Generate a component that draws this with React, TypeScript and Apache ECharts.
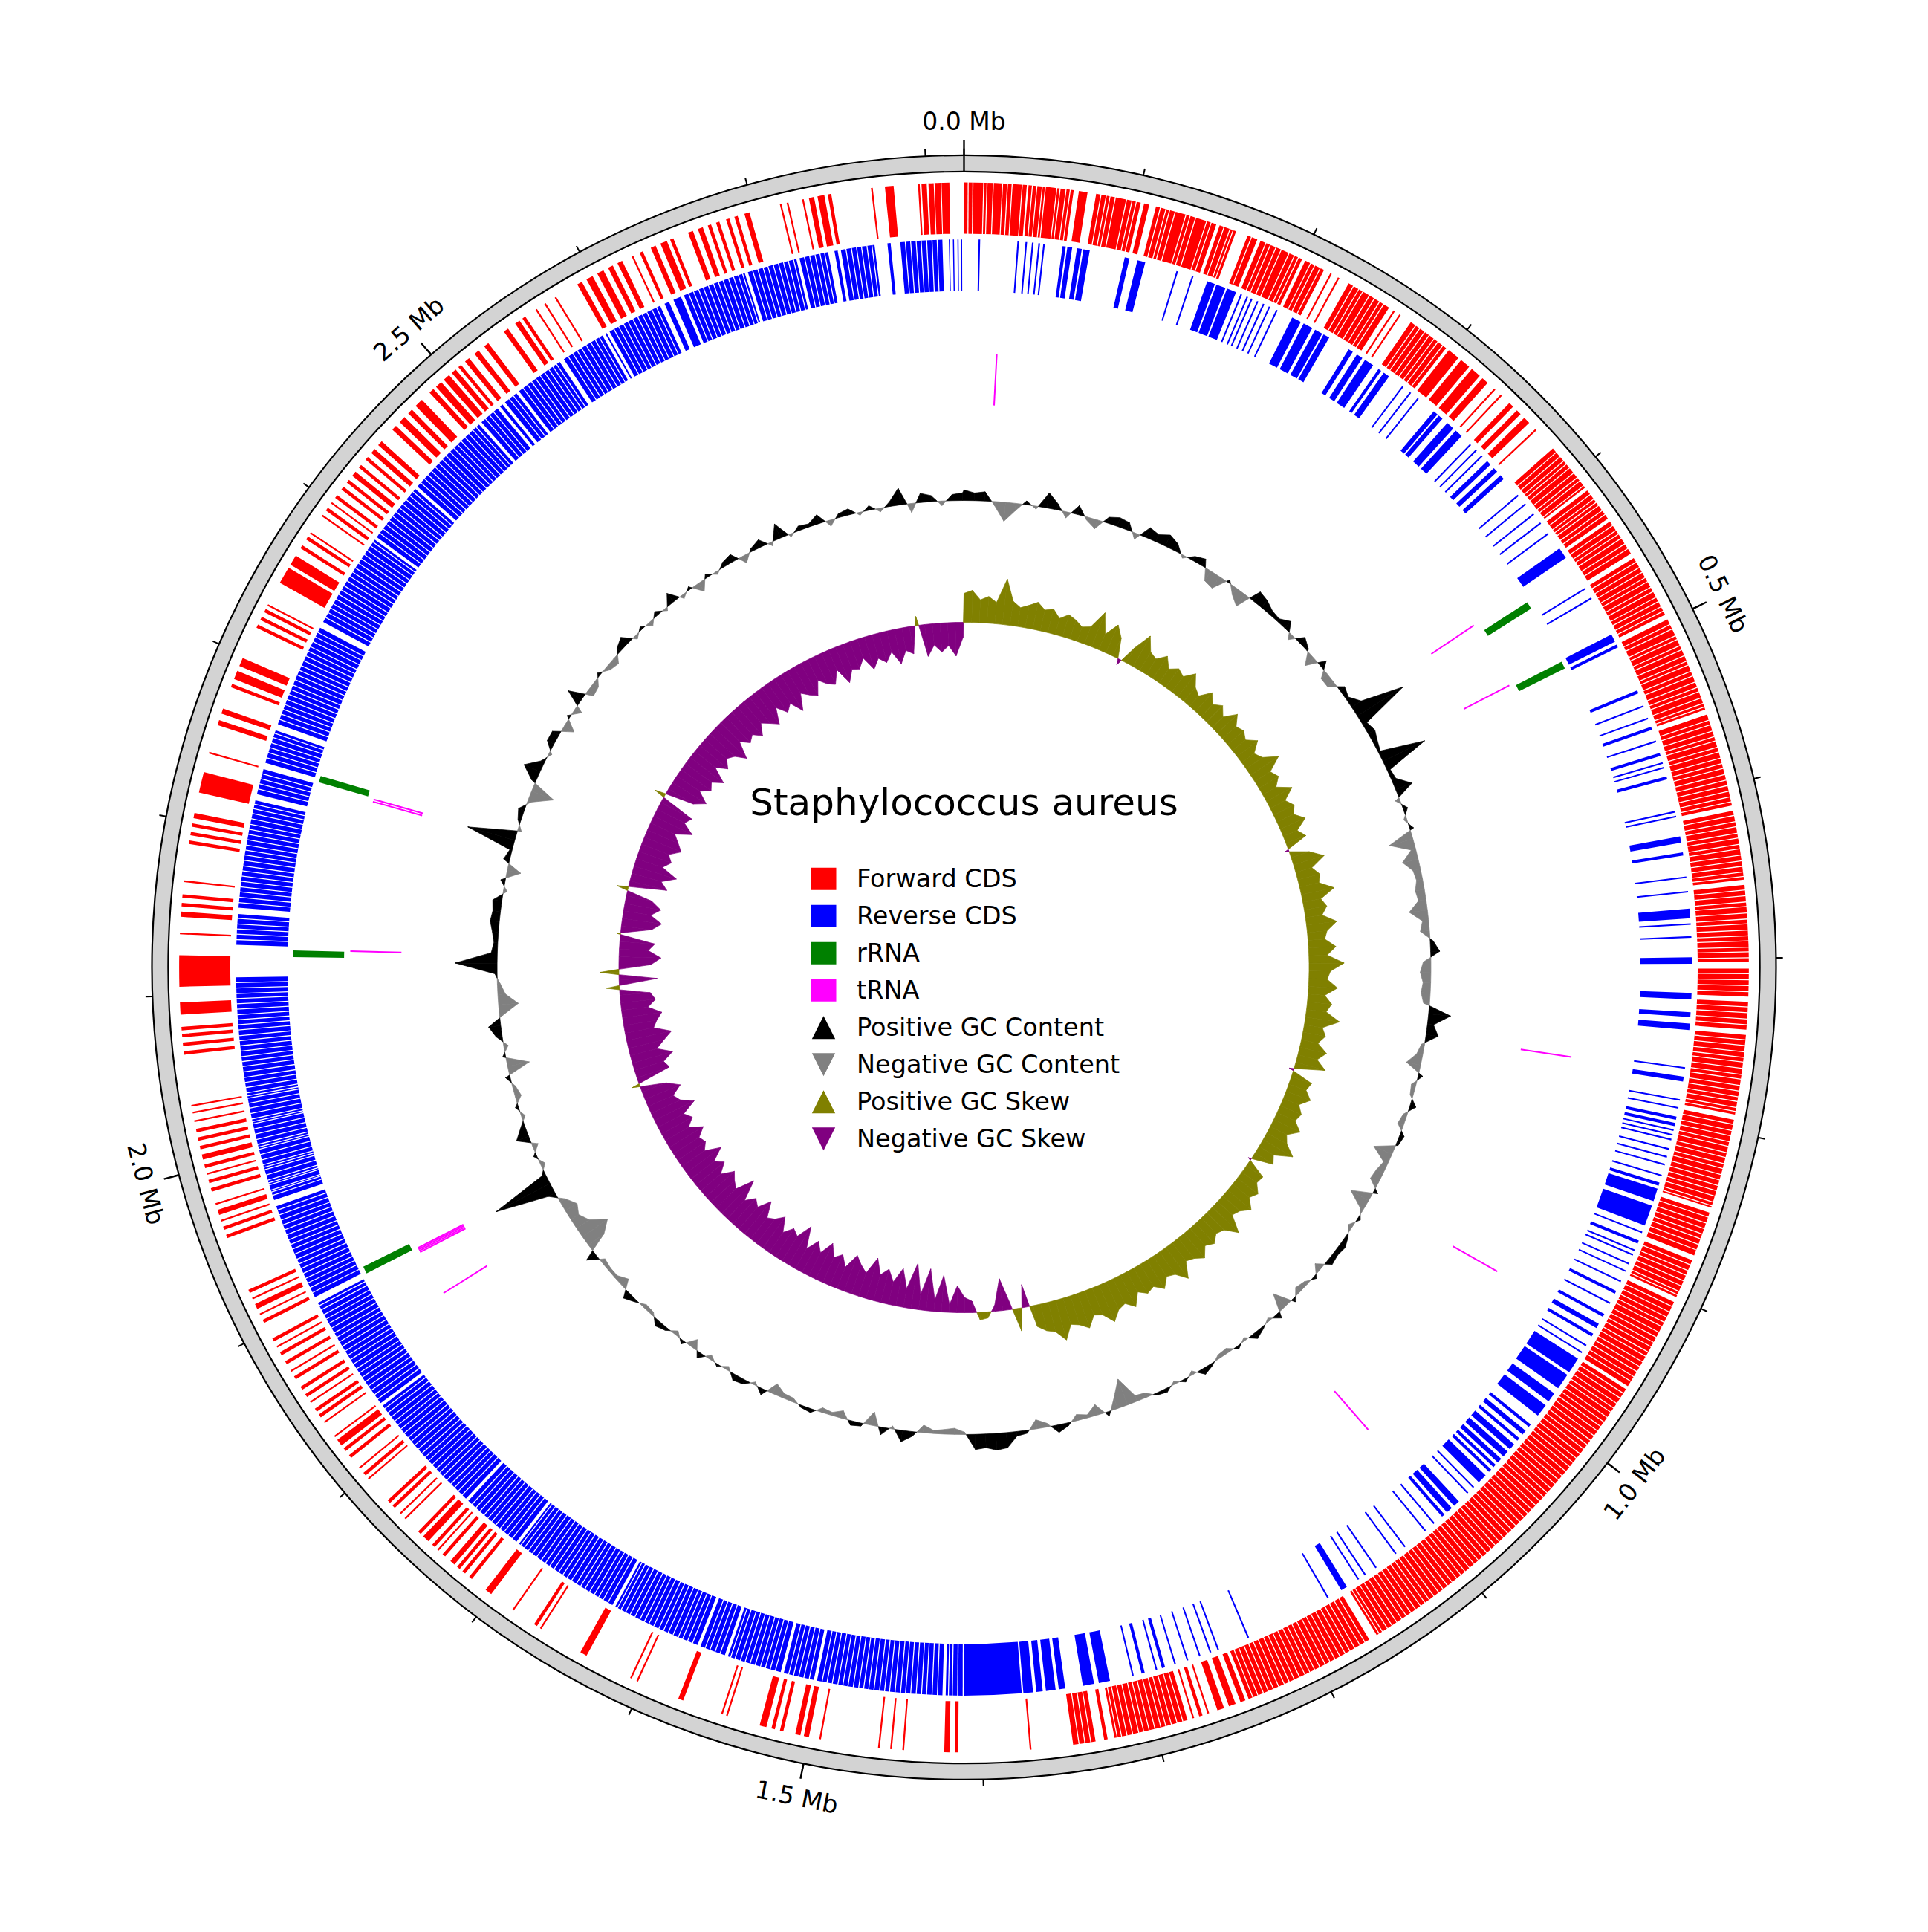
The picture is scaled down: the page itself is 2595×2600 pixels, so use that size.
import React, { useEffect, useRef } from "react";
import * as echarts from "echarts";

type Span = [number, number];

// ---------------- DATA ----------------
const GENOME_KB = 2821.361;
const TITLE = "Staphylococcus aureus";

const minorTickKb = [0, 100, 200, 300, 400, 500, 600, 700, 800, 900, 1000, 1100, 1200, 1300, 1400, 1500, 1600, 1700, 1800, 1900, 2000, 2100, 2200, 2300, 2400, 2500, 2600, 2700, 2800];
const majorTickKb = [0, 500, 1000, 1500, 2000, 2500];
const majorTickLabels = ["0.0 Mb", "0.5 Mb", "1.0 Mb", "1.5 Mb", "2.0 Mb", "2.5 Mb"];

// forward-strand CDS runs (kb)
const forwardCds: Span[] = [
  [0, 36], [37, 63], [66, 71], [76, 102], [104, 107], [111, 147], [149, 159],
  [166, 172], [174, 200], [202, 214], [218, 219], [223, 224], [230, 257], [260, 261], [264, 265],
  [272, 297], [299, 306], [308, 314], [316, 322], [324, 328], [333, 334], [338, 339],
  [345, 348], [351, 354], [357, 361], [366, 367], [381, 410], [412, 432], [434, 456],
  [459, 496], [499, 555], [558, 612], [615, 655], [658, 702], [706, 722], [725, 741],
  [744, 790], [793, 845], [848, 874], [877, 900], [903, 958], [960, 1162], [1167, 1244],
  [1246, 1249], [1252, 1256], [1259, 1263], [1268, 1269], [1272, 1274], [1277, 1278],
  [1281, 1324], [1328, 1330], [1335, 1348],
  [1372, 1373], [1414, 1416], [1419, 1422], [1445, 1446], [1452, 1453], [1459, 1460], [1493, 1494],
  [1500, 1503], [1505, 1508], [1515, 1517], [1520, 1522], [1525, 1529], [1548, 1549], [1551, 1552],
  [1575, 1578], [1603, 1604], [1607, 1608], [1636, 1640], [1666, 1667], [1669, 1671], [1685, 1686],
  [1701, 1705], [1715, 1717], [1720, 1722], [1724, 1726], [1728, 1731], [1735, 1737],
  [1740, 1741], [1743, 1745], [1748, 1752], [1754, 1756], [1766, 1767], [1770, 1771],
  [1775, 1777], [1779, 1781], [1797, 1798], [1800, 1802], [1805, 1806],
  [1813, 1815], [1818, 1820], [1822, 1826], [1828, 1829], [1838, 1839], [1842, 1844], [1846, 1848],
  [1852, 1853], [1856, 1858], [1861, 1863], [1868, 1870], [1873, 1874], [1878, 1880], [1884, 1886],
  [1889, 1890], [1893, 1895], [1905, 1907], [1910, 1911], [1914, 1917], [1920, 1921], [1924, 1926],
  [1958, 1960], [1963, 1965], [1968, 1969], [1972, 1975], [1978, 1979], [1986, 1988], [1991, 1993], [1996, 1997],
  [2000, 2002], [2005, 2008], [2011, 2013], [2016, 2018], [2021, 2023], [2027, 2028], [2032, 2033], [2036, 2037],
  [2066, 2068], [2071, 2073], [2076, 2078], [2080, 2082], [2089, 2096], [2105, 2123], [2135, 2136],
  [2145, 2148], [2151, 2153], [2156, 2158], [2165, 2166], [2187, 2189], [2192, 2194], [2197, 2199], [2202, 2205],
  [2217, 2229], [2240, 2241], [2257, 2260], [2264, 2267], [2280, 2282], [2285, 2290], [2293, 2298],
  [2317, 2319], [2322, 2324], [2327, 2329], [2331, 2332], [2346, 2356], [2358, 2364],
  [2369, 2371], [2375, 2377], [2379, 2380], [2391, 2392],
  [2395, 2397], [2400, 2401], [2404, 2406], [2410, 2412], [2415, 2417],
  [2420, 2423], [2426, 2428], [2432, 2434], [2437, 2440], [2443, 2446],
  [2455, 2458], [2461, 2465], [2468, 2471], [2474, 2479], [2485, 2488], [2490, 2494], [2496, 2500], [2502, 2505],
  [2507, 2509], [2512, 2515], [2519, 2522], [2526, 2529], [2540, 2543], [2548, 2551], [2553, 2555],
  [2562, 2563], [2568, 2569], [2575, 2576], [2590, 2593], [2596, 2600], [2603, 2607], [2610, 2613], [2616, 2619],
  [2625, 2626], [2630, 2632], [2637, 2640], [2643, 2647], [2649, 2651], [2660, 2663], [2666, 2669],
  [2672, 2674], [2677, 2679], [2683, 2685], [2688, 2690], [2694, 2697], [2715, 2716], [2719, 2720], [2728, 2729],
  [2732, 2735], [2737, 2741], [2743, 2745], [2768, 2769], [2776, 2781],
  [2795, 2796], [2797, 2800], [2801, 2804], [2804.5, 2808], [2808.5, 2813],
];

// thin inter-gene gaps visible inside dense forward runs (kb)
const forwardGeneBreaks = [
  2.4, 5.1, 11.3, 13.2, 16.8, 22.1, 24.9, 27.6, 33.4, 39.2, 41.8, 44.9, 46.7, 53.3, 55.2, 58.6, 61.0,
  78.8, 81.9, 84.1, 87.2, 93.7, 96.9, 99.4, 113.6, 116.9, 119.1, 122.4, 128.8, 131.3, 134.6, 141.2, 143.9,
  151.7, 155.3, 157.2, 168.4, 177.3, 180.1, 183.6, 186.9, 191.8, 195.2, 197.7, 205.4, 208.1, 211.6,
  233.2, 236.7, 239.4, 243.8, 247.1, 250.6, 253.3, 275.4, 278.2, 281.7, 284.9, 288.3, 291.1, 294.6,
  383.9, 387.2, 390.4, 392.8, 395.6, 399.3, 402.7, 405.1, 408.6, 414.9, 418.2, 420.5, 422.8, 426.3, 429.1,
  436.8, 440.2, 442.7, 445.6, 449.4, 452.6,
  461.7, 465.2, 468.4, 471.9, 474.6, 478.3, 481.1, 484.8, 487.6, 490.9, 493.7,
  502.3, 505.1, 509.4, 511.8, 515.6, 518.2, 521.9, 525.3, 527.7, 531.6, 534.4, 538.2, 541.5, 544.1, 547.9, 551.2, 553.4,
  561.4, 564.2, 567.9, 571.3, 573.8, 577.6, 580.4, 584.1, 587.3, 590.2, 593.8, 597.1, 600.3, 603.6, 606.9, 609.8,
  617.8, 621.4, 624.3, 628.1, 630.9, 634.6, 637.2, 640.8, 644.1, 647.3, 650.6, 653.1,
  660.9, 664.2, 667.8, 670.4, 674.1, 677.6, 680.3, 683.9, 687.2, 690.1, 693.7, 696.4, 699.8,
  708.9, 712.4, 715.7, 719.2, 727.9, 731.2, 734.8, 738.1,
  746.8, 750.1, 753.7, 756.9, 759.6, 763.2, 766.8, 769.4, 773.1, 776.3, 779.7, 782.4, 785.9, 788.2,
  795.7, 799.3, 802.4, 805.9, 808.6, 812.3, 815.1, 818.8, 821.6, 825.2, 828.4, 831.7, 834.9, 838.1, 841.6, 843.8,
  850.7, 854.3, 857.6, 860.9, 863.8, 867.2, 870.6, 879.8, 883.4, 886.2, 889.7, 892.9, 896.3, 898.4,
  905.8, 909.3, 912.6, 915.9, 918.7, 922.4, 925.6, 928.9, 931.8, 935.3, 938.1, 941.7, 944.9, 948.2, 951.6, 954.7,
  962.8, 966.1, 969.7, 972.9, 975.8, 979.4, 982.6, 985.8, 988.9, 992.3, 995.6, 998.8, 1001.9, 1005.4, 1008.7,
  1011.8, 1014.9, 1018.3, 1021.6, 1024.7, 1027.9, 1031.2, 1034.6, 1037.8, 1040.9, 1044.3, 1047.6, 1050.8,
  1053.9, 1057.3, 1060.6, 1063.8, 1066.9, 1070.4, 1073.6, 1076.8, 1079.9, 1083.3, 1086.6, 1089.8, 1092.9,
  1096.4, 1099.7, 1102.8, 1105.9, 1109.3, 1112.6, 1115.8, 1118.9, 1122.4, 1125.7, 1128.8, 1131.9, 1135.3,
  1138.6, 1141.8, 1144.9, 1148.4, 1151.7, 1154.8, 1158.2, 1160.4,
  1169.9, 1173.2, 1176.6, 1179.8, 1182.9, 1186.3, 1189.6, 1192.8, 1195.9, 1199.4, 1202.7, 1205.8, 1208.9,
  1212.3, 1215.6, 1218.8, 1221.9, 1225.4, 1228.7, 1231.8, 1234.9, 1238.3, 1241.4,
  1283.8, 1287.2, 1290.6, 1293.9, 1296.8, 1300.3, 1303.7, 1306.9, 1309.8, 1313.4, 1316.7, 1319.9, 1322.4,
  1337.8, 1341.2, 1344.6,
];

// reverse-strand CDS runs (kb)
const reverseCds: Span[] = [
  [9, 10], [33, 34], [38, 39], [42, 43], [46, 47], [49, 50], [61, 63], [64, 67], [70, 73], [74, 78],
  [100, 103], [108, 113], [133, 134], [143, 144], [153, 158], [159, 165], [166, 172],
  [175, 176], [179, 180], [182, 183], [186, 187], [190, 191], [194, 195], [199, 200],
  [210, 216], [218, 224], [226, 231], [232, 236], [250, 253], [256, 260], [262, 268], [272, 274], [276, 280],
  [290, 291], [296, 297], [302, 303], [315, 318], [319, 322], [326, 331], [333, 338],
  [345, 346], [350, 351], [355, 356], [360, 363], [366, 369], [372, 375],
  [388, 389], [395, 396], [403, 404], [410, 411], [418, 419], [430, 437], [459, 460], [466, 467],
  [492, 497], [499, 501], [530, 532], [540, 541], [548, 549], [554, 556], [563, 564], [571, 573],
  [577, 578], [580, 581], [586, 588], [608, 609], [611, 612], [624, 628], [634, 636],
  [649, 650], [658, 659], [669, 675], [678, 679], [686, 687], [699, 703], [721, 725], [733, 736], [740, 744],
  [767, 768], [773, 776], [787, 788], [792, 793], [798, 800], [802, 804], [806, 807], [809, 810],
  [812, 813], [818, 819], [823, 824], [828, 829],
  [835, 836], [840, 842], [844, 852], [855, 868], [872, 873], [878, 880], [884, 885], [887, 888],
  [893, 894], [898, 899], [905, 906], [912, 914], [920, 921], [928, 930], [935, 938], [942, 944],
  [950, 951], [955, 956], [960, 970], [972, 982], [986, 992], [995, 1003],
  [1010, 1012], [1015, 1018], [1021, 1023], [1026, 1030], [1032, 1036], [1038, 1041], [1043, 1045],
  [1047, 1049], [1052, 1058], [1062, 1063], [1067, 1068], [1075, 1079], [1081, 1085], [1087, 1089],
  [1095, 1096], [1102, 1103], [1118, 1119], [1125, 1126], [1140, 1141], [1148, 1149], [1153, 1154],
  [1162, 1166], [1175, 1176], [1230, 1231], [1250, 1251], [1255, 1256], [1262, 1263], [1270, 1271],
  [1278, 1279], [1285, 1287], [1290, 1291], [1298, 1300], [1305, 1306], [1320, 1327], [1330, 1337],
  [1348, 1352], [1354, 1360], [1362, 1366], [1368, 1374],
  [1375, 1422], [1424, 1502], [1504, 1523], [1525, 1559], [1561, 1577], [1579, 1635], [1637, 1706],
  [1708, 1747], [1749, 1826], [1828, 1901], [1905, 1966], [1970, 2110], [2130, 2149], [2153, 2220],
  [2224, 2240], [2244, 2265], [2269, 2334], [2338, 2398], [2400, 2438], [2440, 2494], [2496, 2509],
  [2511, 2513], [2515, 2524], [2526, 2557], [2560, 2588], [2590, 2591], [2593, 2628], [2631, 2634],
  [2637, 2642], [2644, 2684], [2686, 2717], [2719, 2737], [2741, 2743], [2745, 2766], [2774, 2776],
  [2782, 2808], [2812, 2812.6], [2814.5, 2815.2], [2817.3, 2818], [2819.6, 2820.2],
];

// thin inter-gene gaps visible inside dense reverse runs (kb)
const reverseGeneBreaks = [
  1411.2, 1414.6, 1417.9, 1420.3,
  1427.1, 1430.4, 1433.8, 1436.9, 1440.2, 1443.6, 1446.8, 1449.9, 1453.3, 1456.7, 1459.8, 1462.9, 1466.4,
  1469.7, 1472.8, 1475.9, 1479.3, 1482.6, 1485.8, 1488.9, 1492.4, 1495.7, 1498.8,
  1506.9, 1510.3, 1513.6, 1516.8, 1519.9, 1528.4, 1531.7, 1534.8, 1537.9, 1541.3, 1544.6, 1547.8, 1550.9,
  1554.4, 1557.2, 1564.1, 1567.4, 1570.8, 1573.9,
  1582.3, 1585.6, 1588.9, 1591.8, 1595.3, 1598.6, 1601.8, 1604.9, 1608.4, 1611.7, 1614.8, 1617.9, 1621.3,
  1624.6, 1627.8, 1630.9, 1633.4,
  1640.2, 1643.6, 1646.8, 1649.9, 1653.3, 1656.7, 1659.8, 1662.9, 1666.4, 1669.7, 1672.8, 1675.9, 1679.3,
  1682.6, 1685.8, 1688.9, 1692.4, 1695.7, 1698.8, 1701.9, 1704.6,
  1711.3, 1714.6, 1717.8, 1720.9, 1724.4, 1727.7, 1730.8, 1733.9, 1737.3, 1740.6, 1743.8,
  1752.2, 1755.6, 1758.8, 1761.9, 1765.3, 1768.7, 1771.8, 1774.9, 1778.4, 1781.7, 1784.8, 1787.9, 1791.3,
  1794.6, 1797.8, 1800.9, 1804.4, 1807.7, 1810.8, 1813.9, 1817.3, 1820.6, 1823.8,
  1831.1, 1834.4, 1837.8, 1840.9, 1844.3, 1847.6, 1850.8, 1853.9, 1857.4, 1860.7, 1863.8, 1866.9, 1870.3,
  1873.6, 1876.8, 1879.9, 1883.4, 1886.7, 1889.8, 1892.9, 1896.3, 1899.1,
  1908.2, 1911.6, 1914.8, 1917.9, 1921.3, 1924.6, 1927.8, 1930.9, 1934.4, 1937.7, 1940.8, 1943.9, 1947.3,
  1950.6, 1953.8, 1956.9, 1960.4, 1963.5,
  1973.1, 1975.2, 1976.4, 1979.8, 1981.1, 1982.9, 1986.3, 1989.6, 1991.2, 1992.8, 1995.9, 1999.4, 2002.7,
  2004.1, 2005.8, 2008.9, 2012.3, 2015.6, 2018.8, 2020.2, 2021.9, 2025.4, 2028.7, 2031.8, 2034.9, 2036.4,
  2038.3, 2041.6, 2044.8, 2047.9, 2051.4, 2054.7, 2057.8, 2060.9, 2064.3, 2067.6, 2070.8, 2073.9, 2077.4,
  2080.7, 2083.8, 2086.9, 2090.3, 2093.6, 2096.8, 2099.9, 2103.4, 2106.7,
  2133.2, 2136.6, 2139.8, 2142.9, 2146.3,
  2156.1, 2159.4, 2162.8, 2165.9, 2169.3, 2172.6, 2175.8, 2178.9, 2182.4, 2185.7, 2188.8, 2191.9, 2195.3,
  2198.6, 2201.8, 2204.9, 2208.4, 2211.7, 2214.8, 2217.6, 2227.3, 2230.6, 2233.8, 2236.9,
  2247.2, 2250.6, 2253.8, 2256.9, 2260.3, 2263.1,
  2272.2, 2275.6, 2278.8, 2281.9, 2285.3, 2288.6, 2291.8, 2294.9, 2298.4, 2301.7, 2304.8, 2307.9, 2311.3,
  2314.6, 2317.8, 2320.9, 2324.4, 2327.7, 2330.8,
  2341.2, 2344.6, 2347.8, 2350.9, 2354.3, 2357.6, 2360.8, 2363.9, 2367.4, 2370.7, 2373.8, 2376.9, 2380.3,
  2383.6, 2386.8, 2389.9, 2393.4, 2396.2,
  2403.1, 2406.4, 2409.8, 2412.9, 2416.3, 2419.6, 2422.8, 2425.9, 2429.4, 2432.7, 2435.8,
  2443.2, 2446.6, 2449.8, 2452.9, 2456.3, 2459.6, 2462.8, 2465.9, 2469.4, 2472.7, 2475.8, 2478.9, 2482.3,
  2485.6, 2488.8, 2491.6, 2499.3, 2502.6, 2505.8, 2518.4, 2521.6,
  2529.2, 2532.6, 2535.8, 2538.9, 2542.3, 2545.6, 2548.8, 2551.9, 2554.6,
  2563.2, 2566.6, 2569.8, 2572.9, 2576.3, 2579.6, 2582.8, 2585.7,
  2596.1, 2599.4, 2602.8, 2605.9, 2609.3, 2612.6, 2615.8, 2618.9, 2622.4, 2625.6,
  2647.1, 2650.4, 2653.8, 2656.9, 2660.3, 2663.6, 2666.8, 2669.9, 2673.4, 2676.7, 2679.8, 2682.6,
  2689.1, 2692.4, 2695.8, 2698.9, 2702.3, 2705.6, 2708.8, 2711.9, 2715.2,
  2722.1, 2725.4, 2728.8, 2731.9, 2734.8, 2748.2, 2751.6, 2754.8, 2757.9, 2761.3, 2764.4,
  2785.1, 2788.4, 2791.8, 2794.9, 2798.3, 2801.6, 2804.8,
];

const rRnaSpans: Span[] = [[447, 452], [493, 498], [1903.5, 1908.5], [2123, 2127.5], [2241.5, 2246]];
const tRnaKb = [24, 440, 491, 771, 938, 1088, 1865, 1899.5, 1900.7, 1901.9, 1903, 2128, 2238.8, 2240.6];

const GENOME_GC = 32.9;
const GC_WINDOW_KB = 10;
const gcContent = [
  34.3, 33.9, 34.1, 32.3, 30.4, 31.9, 33.4, 32.5, 34.9, 33.7,
  32.1, 34.1, 32.5, 31.7, 33.7, 34.1, 33.9, 32.1, 34.3, 33.9,
  34.5, 33.9, 32.5, 33.5, 33.9, 31.4, 31.1, 33.3, 31.9, 31.0,
  34.4, 34.1, 33.5, 33.3, 34.1, 32.1, 33.9, 33.2, 31.4, 33.9,
  31.9, 31.9, 33.7, 33.3, 34.4, 40.0, 33.5, 33.9, 33.5, 33.2,
  39.0, 33.3, 33.5, 35.2, 32.3, 33.5, 32.5, 33.4, 29.7, 32.3,
  30.8, 31.9, 32.1, 31.7, 31.9, 30.5, 32.1, 31.7, 33.3, 34.1,
  31.9, 31.5, 31.9, 31.7, 32.1, 35.8, 33.7, 34.5, 32.5, 32.1,
  31.0, 33.5, 32.3, 32.5, 33.7, 32.4, 32.1, 33.5, 33.2, 30.3,
  32.3, 31.9, 31.7, 33.5, 30.2, 32.4, 33.3, 32.3, 33.2, 33.7,
  33.5, 33.7, 31.9, 33.3, 32.4, 32.1, 33.4, 30.6, 33.7, 32.5,
  33.2, 33.7, 32.5, 33.3, 32.3, 32.4, 33.2, 33.7, 32.4, 33.3,
  32.5, 33.4, 33.2, 32.3, 32.1, 29.3, 31.4, 33.5, 31.5, 32.5,
  32.1, 33.3, 33.9, 32.4, 31.7, 33.3, 33.5, 34.9, 35.1, 34.7,
  34.9, 32.6, 32.1, 32.3, 32.5, 31.9, 33.5, 34.4, 32.5, 33.9,
  31.1, 33.3, 33.5, 31.9, 32.5, 32.3, 33.4, 33.2, 32.4, 32.3,
  31.5, 33.7, 32.5, 33.5, 33.7, 32.4, 33.2, 32.3, 33.7, 31.7,
  33.4, 32.3, 33.3, 33.7, 32.5, 32.4, 33.2, 33.9, 31.7, 32.5,
  32.5, 32.3, 34.3, 30.4, 28.9, 30.9, 31.7, 31.1, 32.1, 33.9,
  40.9, 33.4, 32.3, 33.3, 32.1, 34.6, 33.5, 32.4, 33.3, 32.1,
  32.5, 33.5, 30.0, 33.3, 32.3, 33.7, 34.5, 32.4, 30.3, 31.9,
  32.5, 33.2, 38.4, 33.7, 33.4, 33.7, 34.1, 33.9, 34.1, 32.4,
  33.5, 31.1, 33.7, 33.2, 39.3, 32.4, 33.3, 33.7, 32.4, 29.8,
  33.5, 35.2, 33.4, 32.5, 33.9, 33.9, 31.4, 33.3, 31.9, 35.0,
  31.9, 32.1, 33.3, 32.3, 32.0, 33.5, 34.1, 32.4, 33.3, 32.3,
  33.5, 32.5, 34.3, 32.4, 33.3, 31.6, 33.4, 32.5, 33.5, 33.9,
  31.9, 33.3, 33.9, 32.4, 34.9, 32.5, 33.5, 33.3, 34.1, 32.1,
  33.4, 33.7, 32.5, 33.5, 32.4, 33.5, 35.1, 31.7, 34.1, 33.7,
  32.3, 33.7, 33.9,
];

const gcSkewPermille = [
  38, 42, 30, 35, 28, 60, 32, 25, 30, 36,
  28, 32, 22, 30, 26, 20, 24, 48, 22, 40,
  26, -8, 22, 46, 28, 24, 35, 22, 30, 25,
  38, 24, 18, 33, 22, 30, 20, 36, 24, 28,
  22, 34, 20, 26, 44, 24, 30, 20, 38, 22,
  30, 24, 36, 20, 28, -5, 25, 42, 22, 30,
  26, 44, 24, 30, 22, 40, 26, 22, 36, 24,
  46, 28, 24, 38, 22, 32, 26, 45, 24, 30,
  22, 36, 26, 40, -6, 28, 24, 34, 22, 30,
  26, 38, 24, 30, 45, 22, 28, -4, 26, 24,
  34, 28, 40, 30, 26, 48, 32, 28, 36, 30,
  42, 34, 30, 50, 36, 32, 44, 34, 38, 30,
  46, 36, 40, 52, 38, 34, 48, 40, 36, 54,
  40, 36, 28, -30, 30, -10, -42, -8, 8, 10,
  -15, -20, -35, -10, -48, -15, -55, -20, -60, -25,
  -50, -30, -45, -35, -55, -32, -40, -50, -30, -44,
  -36, -52, -34, -46, -30, -58, -38, -44, -32, -50,
  -40, -35, -55, -38, -45, -33, -60, -36, -42, -50,
  -34, -48, -38, -56, -36, -44, -40, -52, -35, -46,
  -38, -58, -42, -36, -50, -34, 10, -45, -40, -55,
  -36, -48, -60, -38, -44, -52, -35, -46, -40, 17,
  -50, 25, -42, -55, -38, -46, 5, -40, -52, -36,
  -48, -34, 15, -50, -40, -58, -36, -45, -38, -52,
  -44, -35, -56, -40, -46, 15, -38, -52, -36, -48,
  -42, -55, -34, -48, -38, -44, -57, -35, -46, -40,
  -50, -36, -44, -52, -32, -46, -38, -55, -34, -42,
  -48, -30, -40, -45, -28, -50, -35, -38, -26, -44,
  -32, -40, -28, -46, -30, -36, 12, -42, -28, -38,
  -30, -44, -20,
];

const legendLabels = ["Forward CDS", "Reverse CDS", "rRNA", "tRNA", "Positive GC Content", "Negative GC Content", "Positive GC Skew", "Negative GC Skew"];

// ---------------- STYLE / LAYOUT ----------------
const W = 2595;
const H = 2600;
const CX = 1297.5;
const CY = 1302;
const R = 1093;
const FONT = "DejaVu Sans";
const COLORS = {
  fwd: "#ff0000", rev: "#0000ff", rrna: "#008000", trna: "#ff00ff",
  gcPos: "#000000", gcNeg: "#808080", skewPos: "#808000", skewNeg: "#800080", ring: "#d3d3d3",
};
const LEGEND_MARKERS = [
  ["rect", COLORS.fwd], ["rect", COLORS.rev], ["rect", COLORS.rrna], ["rect", COLORS.trna],
  ["up", COLORS.gcPos], ["down", COLORS.gcNeg], ["up", COLORS.skewPos], ["down", COLORS.skewNeg],
];
const TRACK = {
  ring: [98, 100] as Span, fwd: [90.35, 96.65] as Span, rev: [83.3, 89.65] as Span,
  rrna: [76.35, 82.65] as Span, trna: [69.3, 75.6] as Span,
};

function dist(p: number[], cx: number, cy: number) {
  return Math.hypot(p[0] - cx, p[1] - cy);
}
function ang(p: number[], cx: number, cy: number) {
  return Math.atan2(p[1] - cy, p[0] - cx);
}

function sectorEl(params: any, api: any, rIn: number, rOut: number, s: number, e: number, color: string) {
  const cx = params.coordSys.cx, cy = params.coordSys.cy;
  const pIn = api.coord([rIn, s]);
  const pS = api.coord([rOut, s]);
  const pE = api.coord([rOut, e]);
  const a0 = ang(pS, cx, cy);
  let d = ang(pE, cx, cy) - a0;
  while (d < 0) d += Math.PI * 2;
  return {
    type: "sector",
    shape: { cx, cy, r0: dist(pIn, cx, cy), r: dist(pS, cx, cy), startAngle: a0, endAngle: a0 + d, clockwise: true },
    style: { fill: color },
  };
}

function featureSeries(spans: Span[], track: Span, color: string, name: string) {
  return {
    type: "custom", name, coordinateSystem: "polar", polarIndex: 0, silent: true,
    data: spans.map((s) => [s[0], s[1]]),
    renderItem: (params: any, api: any) =>
      sectorEl(params, api, track[0], track[1], api.value(0), api.value(1), color),
  };
}

function radialLineSeries(positions: number[], track: Span, color: string, width: number, name: string) {
  return {
    type: "custom", name, coordinateSystem: "polar", polarIndex: 0, silent: true,
    data: positions.map((k) => [track[1], k]),
    renderItem: (params: any, api: any) => {
      const k = api.value(1);
      const a = api.coord([track[0] - 0.05, k]);
      const b = api.coord([track[1] + 0.05, k]);
      return { type: "line", shape: { x1: a[0], y1: a[1], x2: b[0], y2: b[1] }, style: { stroke: color, lineWidth: width } };
    },
  };
}

function profileSeries(values: number[], base: number, polarIndex: number, posColor: string, negColor: string, name: string) {
  const n = values.length;
  return {
    type: "custom", name, coordinateSystem: "polar", polarIndex, silent: true,
    data: values.map((v, i) => [v, i * GC_WINDOW_KB]),
    renderItem: (params: any, api: any) => {
      const i = params.dataIndex;
      const v0 = values[i];
      const v1 = values[(i + 1) % n];
      const x0 = i * GC_WINDOW_KB;
      const x1 = i + 1 < n ? (i + 1) * GC_WINDOW_KB : GENOME_KB;
      const P = (v: number, x: number) => {
        const c = api.coord([v, x]);
        return [c[0], c[1]];
      };
      const children: any[] = [];
      const poly = (pts: number[][], color: string) =>
        children.push({ type: "polygon", shape: { points: pts }, style: { fill: color, stroke: color, lineWidth: 0.7, lineJoin: "round" } });
      const s0 = v0 - base, s1 = v1 - base;
      if (s0 >= 0 && s1 >= 0) {
        poly([P(base, x0), P(v0, x0), P(v1, x1), P(base, x1)], posColor);
      } else if (s0 <= 0 && s1 <= 0) {
        poly([P(base, x0), P(v0, x0), P(v1, x1), P(base, x1)], negColor);
      } else {
        const t = s0 / (s0 - s1);
        const xm = x0 + t * (x1 - x0);
        poly([P(base, x0), P(v0, x0), P(base, xm)], s0 > 0 ? posColor : negColor);
        poly([P(base, xm), P(v1, x1), P(base, x1)], s1 > 0 ? posColor : negColor);
      }
      return { type: "group", children };
    },
  };
}

function buildOption(): any {
  const gcMin = GENOME_GC - 8, gcMax = GENOME_GC + 8;
  const series: any[] = [];

  series.push({
    type: "custom", name: "axis", coordinateSystem: "polar", polarIndex: 0, silent: true,
    data: [[TRACK.ring[1], 0]],
    renderItem: (params: any, api: any) => {
      const cx = params.coordSys.cx, cy = params.coordSys.cy;
      const pO = api.coord([TRACK.ring[1], 0]);
      const pI = api.coord([TRACK.ring[0], 0]);
      return {
        type: "group",
        children: [
          { type: "ring", shape: { cx, cy, r: dist(pO, cx, cy), r0: dist(pI, cx, cy) }, style: { fill: COLORS.ring, stroke: "#000", lineWidth: 2.2 } },
          { type: "line", shape: { x1: pI[0], y1: pI[1], x2: pO[0], y2: pO[1] }, style: { stroke: "#000", lineWidth: 2.4 } },
        ],
      };
    },
  });

  const tickSeries = (ticks: number[], len: number, width: number) => ({
    type: "custom", coordinateSystem: "polar", polarIndex: 0, silent: true,
    data: ticks.map((k) => [TRACK.ring[1], k]),
    renderItem: (params: any, api: any) => {
      const k = api.value(1);
      const a = api.coord([TRACK.ring[1], k]);
      const b = api.coord([TRACK.ring[1] + len, k]);
      return { type: "line", shape: { x1: a[0], y1: a[1], x2: b[0], y2: b[1] }, style: { stroke: "#000", lineWidth: width } };
    },
  });
  series.push(tickSeries(minorTickKb, 0.85, 2));
  series.push(tickSeries(majorTickKb, 1.9, 2.4));

  series.push({
    type: "custom", coordinateSystem: "polar", polarIndex: 0, silent: true,
    data: majorTickKb.map((k) => [TRACK.ring[1], k]),
    renderItem: (params: any, api: any) => {
      const k = api.value(1);
      const p = api.coord([104.2, k]);
      const deg = (k / GENOME_KB) * 360;
      const rot = deg > 90 && deg < 270 ? deg - 180 : deg;
      return {
        type: "text", x: p[0], y: p[1], rotation: (-rot * Math.PI) / 180,
        style: { text: majorTickLabels[params.dataIndex], fontSize: 33, fontFamily: FONT, fill: "#000", align: "center", verticalAlign: "middle" },
      };
    },
  });

  series.push(featureSeries(forwardCds, TRACK.fwd, COLORS.fwd, "Forward CDS"));
  series.push(radialLineSeries(forwardGeneBreaks, TRACK.fwd, "#ffffff", 1.3, "fwd gaps"));
  series.push(featureSeries(reverseCds, TRACK.rev, COLORS.rev, "Reverse CDS"));
  series.push(radialLineSeries(reverseGeneBreaks, TRACK.rev, "#ffffff", 1.3, "rev gaps"));
  series.push(featureSeries(rRnaSpans, TRACK.rrna, COLORS.rrna, "rRNA"));
  series.push(radialLineSeries(tRnaKb, [TRACK.trna[0] + 0.05, TRACK.trna[1] - 0.05], COLORS.trna, 2, "tRNA"));

  series.push(profileSeries(gcContent, GENOME_GC, 1, COLORS.gcPos, COLORS.gcNeg, "GC Content"));
  series.push(profileSeries(gcSkewPermille.map((v) => v / 1000), 0, 2, COLORS.skewPos, COLORS.skewNeg, "GC Skew"));

  const elements: any[] = [
    {
      type: "text", x: CX, y: 1080,
      style: { text: TITLE, fontSize: 50, fontFamily: FONT, fill: "#000", align: "center", verticalAlign: "middle" },
    },
  ];
  const mx = 1108.5, tx = 1153;
  legendLabels.forEach((label, i) => {
    const y = 1182.7 + i * 50;
    const [kind, color] = LEGEND_MARKERS[i];
    if (kind === "rect") {
      elements.push({ type: "rect", shape: { x: mx - 17, y: y - 15, width: 34, height: 30 }, style: { fill: color } });
    } else if (kind === "up") {
      elements.push({ type: "polygon", shape: { points: [[mx - 15.7, y + 15.5], [mx + 15.7, y + 15.5], [mx, y - 15.5]] }, style: { fill: color } });
    } else {
      elements.push({ type: "polygon", shape: { points: [[mx - 15.7, y - 15.5], [mx + 15.7, y - 15.5], [mx, y + 15.5]] }, style: { fill: color } });
    }
    elements.push({
      type: "text", x: tx, y,
      style: { text: label, fontSize: 33.5, fontFamily: FONT, fill: "#000", align: "left", verticalAlign: "middle" },
    });
  });

  return {
    animation: false,
    backgroundColor: "#ffffff",
    polar: [
      { center: [CX, CY], radius: [0, R] },
      { center: [CX, CY], radius: [R * 0.5, R * 0.65] },
      { center: [CX, CY], radius: [R * 0.35, R * 0.5] },
    ],
    angleAxis: [0, 1, 2].map((i) => ({
      polarIndex: i, type: "value", min: 0, max: GENOME_KB, startAngle: 90, clockwise: true, show: false,
    })),
    radiusAxis: [
      { polarIndex: 0, type: "value", min: 0, max: 100, show: false },
      { polarIndex: 1, type: "value", min: gcMin, max: gcMax, show: false },
      { polarIndex: 2, type: "value", min: -0.08, max: 0.08, show: false },
    ],
    series,
    graphic: { elements },
  };
}

export default function App() {
  const ref = useRef<HTMLDivElement>(null);
  useEffect(() => {
    document.body.style.margin = "0";
    const chart = echarts.init(ref.current as HTMLDivElement, null, { renderer: "svg", width: W, height: H });
    chart.setOption(buildOption());
    return () => chart.dispose();
  }, []);
  return <div ref={ref} style={{ width: W, height: H, background: "#fff" }} />;
}
